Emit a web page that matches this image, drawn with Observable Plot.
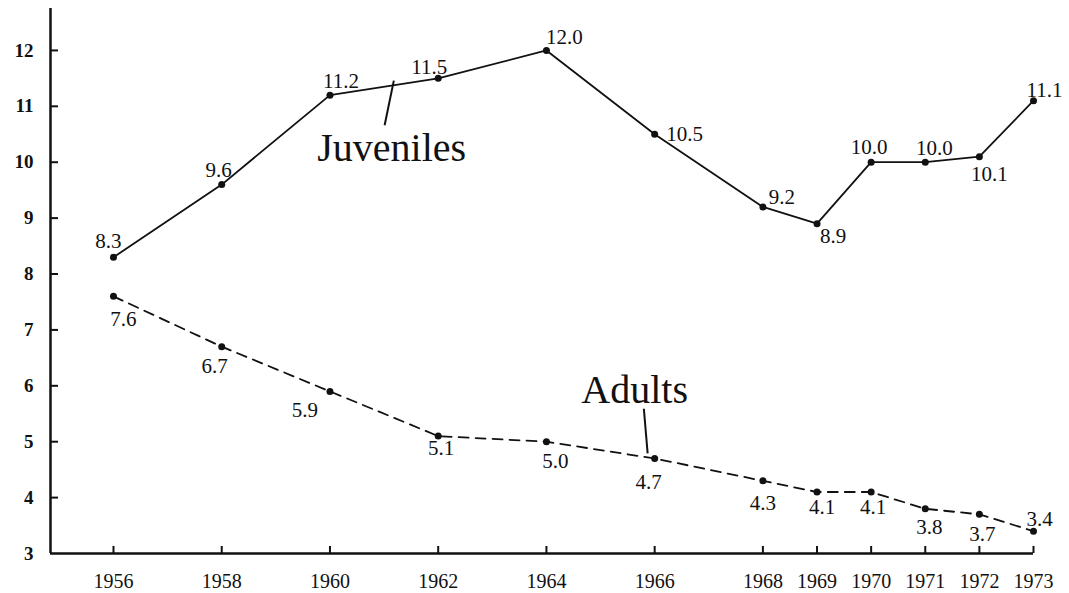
<!DOCTYPE html>
<html><head><meta charset="utf-8">
<script src="https://cdn.jsdelivr.net/npm/d3@7"></script>
<script src="https://cdn.jsdelivr.net/npm/@observablehq/plot@0.6"></script>
<style>body{margin:0;background:#fff;} svg{display:block;}</style>
</head><body><div id="chart"></div>
<script>
// ---- data ----
const years = [1956,1958,1960,1962,1964,1966,1968,1969,1970,1971,1972,1973];
const juveniles = [8.3,9.6,11.2,11.5,12.0,10.5,9.2,8.9,10.0,10.0,10.1,11.1];
const adults = [7.6,6.7,5.9,5.1,5.0,4.7,4.3,4.1,4.1,3.8,3.7,3.4];
const yTicks = [3,4,5,6,7,8,9,10,11,12];
const xTicks = [1956,1958,1960,1962,1964,1966,1968,1969,1970,1971,1972,1973];
const seriesNames = ["Juveniles","Adults"];

// ---- label placement (pixels) ----
const juvDx = [-5,-3,11,-9,18,30,19,16,-2,9,10,11];
const juvDy = [-16,-14,-14,-11,-13,0,-10,13,-15,-14,18,-10];
const adDx = [10,-7,-25,3,9,-6,0,5,2,4,3,6];
const adDy = [23,20,19,12,20,24,22,15,15,18,20,-12];

const juvData = years.map((y,i)=>({year:y, value:juveniles[i]}));
const adData = years.map((y,i)=>({year:y, value:adults[i]}));

const xMin = 1954.836, xMax = 1973, yMin = 3, yMax = 12.75;
const W = 1069, H = 593, mL = 50, mR = 36, mT = 8, mB = 40;
const pxPerYear = (W - mL - mR) / (xMax - xMin);
const pxPerUnit = (H - mT - mB) / (yMax - yMin);
const font = "Liberation Serif, Times New Roman, serif";

const labelMarks = [];
juvData.forEach((d,i)=>labelMarks.push(Plot.text([d],{x:"year",y:"value",text:d=>d.value.toFixed(1),dx:juvDx[i],dy:juvDy[i],fontSize:21,fill:"#111"})));
adData.forEach((d,i)=>labelMarks.push(Plot.text([d],{x:"year",y:"value",text:d=>d.value.toFixed(1),dx:adDx[i],dy:adDy[i],fontSize:21,fill:"#111"})));

// annotation anchors (data space)
const notes = [
  {name: seriesNames[0], x:1961.14, y:10.03, lx1:1961.18, ly1:11.46, lx2:1961.01, ly2:10.66},
  {name: seriesNames[1], x:1965.63, y:5.70, lx1:1965.87, ly1:4.79, lx2:1965.80, ly2:5.59}
];

const chart = Plot.plot({
  width: W, height: H,
  marginLeft: mL, marginRight: mR, marginTop: mT, marginBottom: mB,
  style: {fontFamily: font, background: "#fff", color: "#111"},
  x: {domain: [xMin, xMax], type: "linear"},
  y: {domain: [yMin, yMax]},
  marks: [
    // axes lines
    Plot.ruleX([xMin], {stroke:"#111", strokeWidth:2.5}),
    Plot.ruleY([yMin], {x1: xMin, x2: xMax, stroke:"#111", strokeWidth:2.5}),
    // inward ticks
    Plot.ruleY(yTicks.slice(1), {x1: xMin, x2: xMin + 8 / pxPerYear, stroke:"#111", strokeWidth:2}),
    Plot.ruleX(xTicks, {y1: yMin, y2: yMin + 7 / pxPerUnit, stroke:"#111", strokeWidth:2}),
    // tick labels
    Plot.axisY(yTicks, {tickSize:0, tickPadding:17, fontSize:19, fontWeight:"bold", tickFormat: d=>String(d)}),
    Plot.axisX(xTicks, {tickSize:0, tickPadding:20, fontSize:20, tickFormat: d=>String(d)}),
    // series
    Plot.line(juvData, {x:"year", y:"value", stroke:"#111", strokeWidth:1.8}),
    Plot.line(adData, {x:"year", y:"value", stroke:"#111", strokeWidth:1.8, strokeDasharray:"10,7"}),
    Plot.dot(juvData, {x:"year", y:"value", r:3.5, fill:"#111"}),
    Plot.dot(adData, {x:"year", y:"value", r:3.5, fill:"#111"}),
    ...labelMarks,
    // annotations
    Plot.link(notes, {x1:"lx1", y1:"ly1", x2:"lx2", y2:"ly2", stroke:"#111", strokeWidth:2}),
    Plot.text(notes, {x:"x", y:"y", text:"name", fontSize:40, lineAnchor:"bottom", fill:"#111"})
  ]
});
document.getElementById("chart").appendChild(chart);
</script>
</body></html>
